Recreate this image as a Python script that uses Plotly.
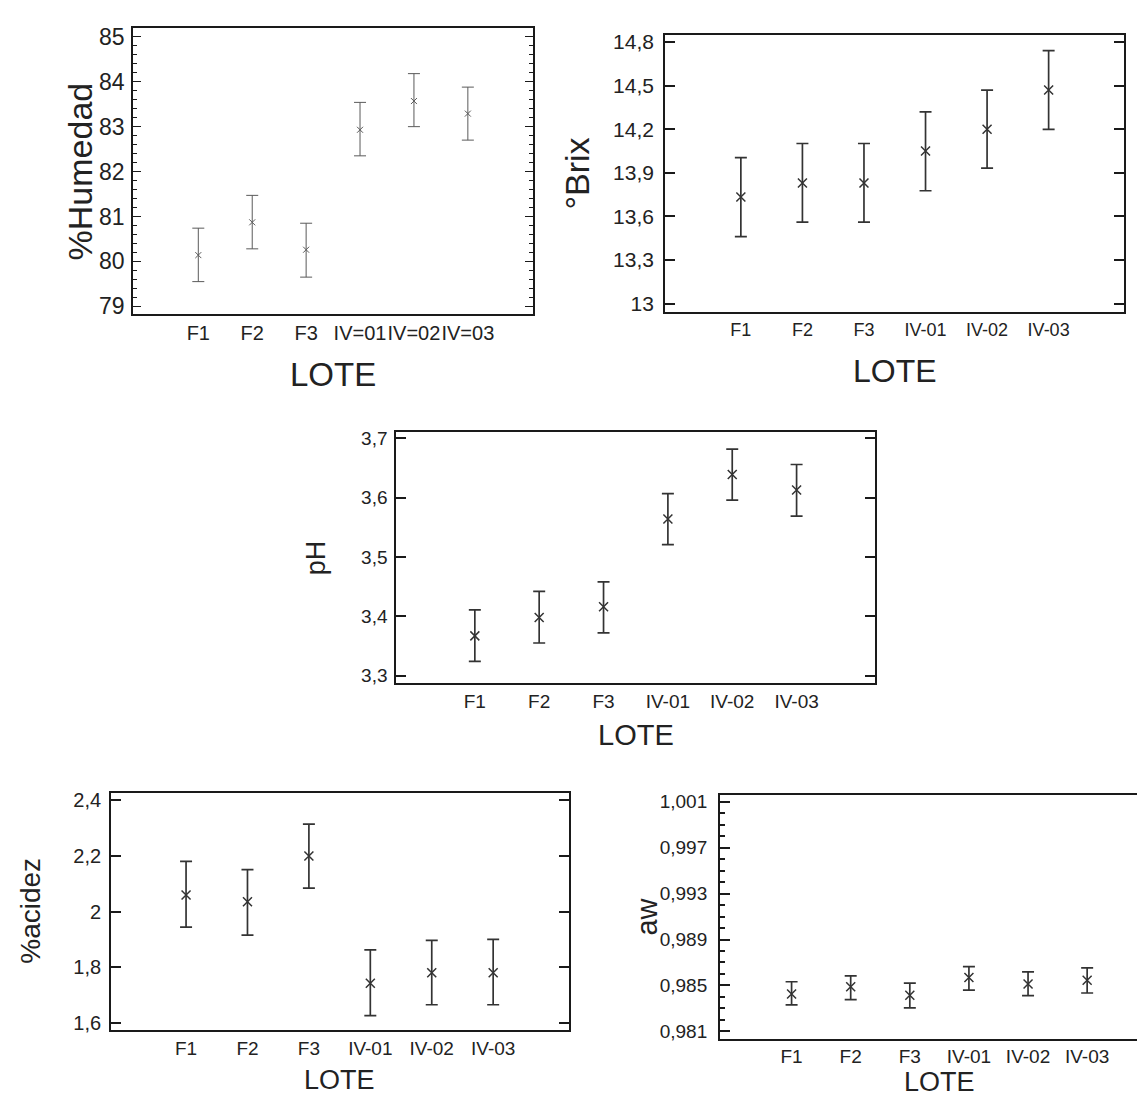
import plotly.graph_objects as go

W, H = 1145, 1099

# ---------------- data ----------------
lote_a = ["F1", "F2", "F3", "IV=01", "IV=02", "IV=03"]
lote_b = ["F1", "F2", "F3", "IV-01", "IV-02", "IV-03"]

hum_mean = [80.14, 80.87, 80.26, 82.93, 83.57, 83.29]
hum_low = [79.55, 80.28, 79.65, 82.35, 83.00, 82.70]
hum_high = [80.74, 81.47, 80.85, 83.54, 84.18, 83.88]
hum_ticks = [79, 80, 81, 82, 83, 84, 85]
hum_ticktext = ["79", "80", "81", "82", "83", "84", "85"]

brix_mean = [13.734, 13.83, 13.83, 14.05, 14.20, 14.47]
brix_low = [13.461, 13.561, 13.561, 13.777, 13.932, 14.20]
brix_high = [14.005, 14.102, 14.102, 14.32, 14.47, 14.741]
brix_ticks = [13.0, 13.3, 13.6, 13.9, 14.2, 14.5, 14.8]
brix_ticktext = ["13", "13,3", "13,6", "13,9", "14,2", "14,5", "14,8"]

ph_mean = [3.367, 3.398, 3.416, 3.564, 3.639, 3.613]
ph_low = [3.324, 3.355, 3.372, 3.521, 3.596, 3.569]
ph_high = [3.411, 3.442, 3.458, 3.607, 3.682, 3.656]
ph_ticks = [3.3, 3.4, 3.5, 3.6, 3.7]
ph_ticktext = ["3,3", "3,4", "3,5", "3,6", "3,7"]

acid_mean = [2.060, 2.036, 2.200, 1.743, 1.781, 1.781]
acid_low = [1.945, 1.916, 2.085, 1.627, 1.666, 1.666]
acid_high = [2.181, 2.151, 2.315, 1.863, 1.897, 1.901]
acid_ticks = [1.6, 1.8, 2.0, 2.2, 2.4]
acid_ticktext = ["1,6", "1,8", "2", "2,2", "2,4"]

aw_mean = [0.98425, 0.98489, 0.98414, 0.98569, 0.98512, 0.98546]
aw_low = [0.98330, 0.98376, 0.98304, 0.98460, 0.98411, 0.98434]
aw_high = [0.98532, 0.98584, 0.98520, 0.98664, 0.98618, 0.98653]
aw_ticks = [0.981, 0.985, 0.989, 0.993, 0.997, 1.001]
aw_ticktext = ["0,981", "0,985", "0,989", "0,993", "0,997", "1,001"]

x_title = "LOTE"

# ---------------- styling / layout ----------------
FONT = "Liberation Sans, Arial, Helvetica, sans-serif"
TXT = "#222222"
AX = "#1a1a1a"


def px_x(v):
    return v / W


def px_y(v):
    return 1 - v / H


panels = [
    dict(cats=lote_a, mean=hum_mean, low=hum_low, high=hum_high,
         tv=hum_ticks, tt=hum_ticktext, ytitle="%Humedad",
         box=(125.3, 526.0, 15.0, 304.0), xr=[-1.21, 6.21], yr=[78.824, 85.199],
         ytf=23, xtf=20, ytitf=34, xtitf=33, ytit_xy=(72, 160), xtit_xy=(325.5, 364.7),
         msize=6, mwidth=1.0, ecol="#5a5a5a", ethick=1.0, tlen=8, twid=1.2,
         standoff=2, minor=dict(dtick=0.2, tick0=79)),
    dict(cats=lote_b, mean=brix_mean, low=brix_low, high=brix_high,
         tv=brix_ticks, tt=brix_ticktext, ytitle="°Brix",
         box=(658.3, 1118.3, 22.3, 301.7), xr=[-1.23, 6.23], yr=[12.943, 14.848],
         ytf=21, xtf=18, ytitf=34, xtitf=32, ytit_xy=(570, 162), xtit_xy=(888.3, 361.3),
         msize=9, mwidth=1.5, ecol="#333333", ethick=1.7, tlen=10, twid=2,
         standoff=5, minor=None),
    dict(cats=lote_b, mean=ph_mean, low=ph_low, high=ph_high,
         tv=ph_ticks, tt=ph_ticktext, ytitle="pH",
         box=(389.0, 868.3, 423.3, 676.0), xr=[-1.22, 6.215], yr=[3.2878, 3.710],
         ytf=19, xtf=19, ytitf=27, xtitf=29, ytit_xy=(308, 549.7), xtit_xy=(628.7, 729),
         msize=9, mwidth=1.5, ecol="#333333", ethick=1.7, tlen=10, twid=2,
         standoff=3, minor=None),
    dict(cats=lote_b, mean=acid_mean, low=acid_low, high=acid_high,
         tv=acid_ticks, tt=acid_ticktext, ytitle="%acidez",
         box=(103.3, 561.7, 787.0, 1026.7), xr=[-1.22, 6.23], yr=[1.574, 2.427],
         ytf=20, xtf=19, ytitf=28, xtitf=27, ytit_xy=(23, 906), xtit_xy=(332.5, 1076.7),
         msize=9, mwidth=1.5, ecol="#333333", ethick=1.7, tlen=10, twid=2,
         standoff=4, minor=None),
    dict(cats=lote_b, mean=aw_mean, low=aw_low, high=aw_high,
         tv=aw_ticks, tt=aw_ticktext, ytitle="aw",
         box=(713.3, 1145.0, 789.3, 1035.0), xr=[-1.21, 6.08], yr=[0.98037, 1.00158],
         ytf=19, xtf=19, ytitf=29, xtitf=27, ytit_xy=(640, 912), xtit_xy=(932.8, 1079),
         msize=9, mwidth=1.5, ecol="#333333", ethick=1.7, tlen=10, twid=2,
         standoff=7, minor=dict(dtick=0.001, tick0=0.981)),
]

fig = go.Figure()
layout = dict(width=W, height=H, margin=dict(l=0, r=0, t=0, b=0),
              paper_bgcolor="white", plot_bgcolor="white", showlegend=False,
              font=dict(family=FONT, color=TXT), annotations=[])

for i, p in enumerate(panels, start=1):
    sfx = "" if i == 1 else str(i)
    fig.add_trace(go.Scatter(
        x=p["cats"], y=p["mean"], mode="markers",
        marker=dict(symbol="x-thin-open", size=p["msize"], color=p["ecol"],
                    line=dict(width=p["mwidth"], color=p["ecol"])),
        error_y=dict(type="data", symmetric=False,
                     array=[h - m for h, m in zip(p["high"], p["mean"])],
                     arrayminus=[m - l for m, l in zip(p["mean"], p["low"])],
                     color=p["ecol"], thickness=p["ethick"], width=6),
        xaxis="x" + sfx, yaxis="y" + sfx, hoverinfo="x+y"))
    x0, x1, y0, y1 = p["box"]
    layout["xaxis" + sfx] = dict(
        domain=[px_x(x0), px_x(x1)], range=p["xr"], type="category",
        anchor="y" + sfx, showline=True, linecolor=AX, linewidth=2, mirror=True,
        ticks="", showgrid=False, zeroline=False, tickangle=0,
        tickfont=dict(size=p["xtf"], color=TXT, family=FONT))
    ydict = dict(
        domain=[px_y(y1), px_y(y0)], range=p["yr"], anchor="x" + sfx,
        tickmode="array", tickvals=p["tv"], ticktext=p["tt"],
        ticks="inside", ticklen=p["tlen"], tickwidth=p["twid"], tickcolor=AX,
        showline=True, linecolor=AX, linewidth=2, mirror="ticks",
        showgrid=False, zeroline=False, ticklabelstandoff=p["standoff"],
        tickfont=dict(size=p["ytf"], color=TXT, family=FONT))
    if p["minor"]:
        ydict["minor"] = dict(ticks="inside", ticklen=max(4, p["tlen"] // 2),
                              tickwidth=p["twid"], tickcolor=AX,
                              dtick=p["minor"]["dtick"], tick0=p["minor"]["tick0"],
                              showgrid=False)
    layout["yaxis" + sfx] = ydict
    tx, ty = p["ytit_xy"]
    layout["annotations"].append(dict(
        text=p["ytitle"], x=px_x(tx), y=px_y(ty), xref="paper", yref="paper",
        xanchor="center", yanchor="middle", textangle=-90, showarrow=False,
        font=dict(size=p["ytitf"], color=TXT, family=FONT)))
    lx, ly = p["xtit_xy"]
    layout["annotations"].append(dict(
        text=x_title, x=px_x(lx), y=px_y(ly), xref="paper", yref="paper",
        xanchor="center", yanchor="middle", showarrow=False,
        font=dict(size=p["xtitf"], color=TXT, family=FONT)))

fig.update_layout(**layout)
fig.write_html("out.html")
